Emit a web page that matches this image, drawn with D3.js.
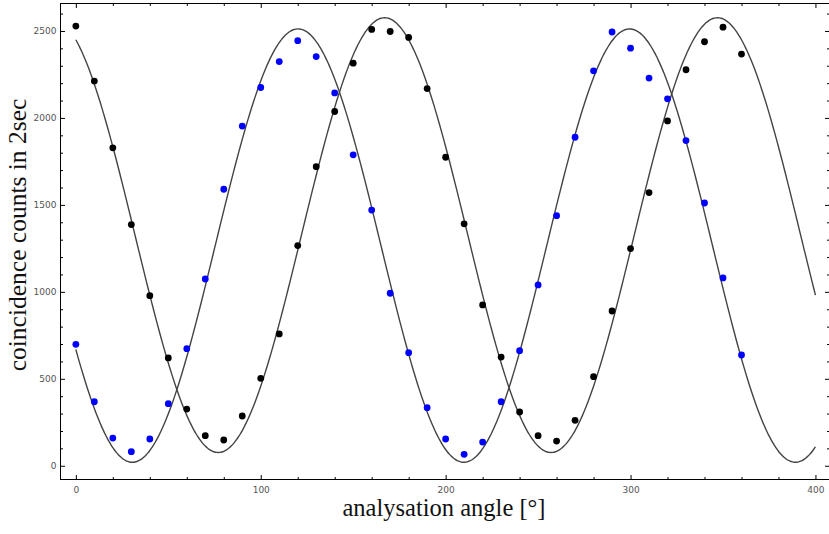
<!DOCTYPE html>
<html>
<head>
<meta charset="utf-8">
<script src="https://cdn.jsdelivr.net/npm/d3@7"></script>
<style>
  body { margin: 0; background: #fff; }
  .tick text { font-family: "DejaVu Sans", sans-serif; font-size: 9px; fill: #555; }
  .axis-title { font-family: "Liberation Serif", serif; font-size: 24.5px; fill: #111; }
</style>
</head>
<body>
<div id="chart"></div>
<script>
// measured angles (degrees)
var angles = [0,10,20,30,40,50,60,70,80,90,100,110,120,130,140,150,160,170,180,
              190,200,210,220,230,240,250,260,270,280,290,300,310,320,330,340,350,360];
// coincidence counts, first detector setting (black)
var countsBlack = [2528,2212,1828,1387,978,620,326,173,148,286,503,758,1266,1720,2037,2315,2509,2497,2463,
                   2169,1774,1391,925,625,309,173,142,261,512,890,1249,1571,1983,2277,2438,2522,2367];
// coincidence counts, second detector setting (blue)
var countsBlue = [698,368,159,81,154,357,673,1074,1590,1953,2175,2324,2444,2353,2144,1788,1470,992,650,
                  334,154,66,136,368,662,1040,1438,1889,2271,2494,2401,2229,2110,1870,1511,1080,637];
// fit parameters [offset, amplitude, phase of max (deg), period (deg)]
var fitBlack = [1326, 1250, 167, 180];
var fitBlue = [1266, 1246, 120.2, 179.3];
var xTicks = [0, 100, 200, 300, 400];
var yTicks = [0, 500, 1000, 1500, 2000, 2500];

(function(){
    var width = 829, height = 534;
    var frameLeft = 60.5, frameRight = 829.5, frameTop = 3.5, frameBottom = 479.5;

    var svg = d3.select('#chart').append('svg')
        .attr('width', width)
        .attr('height', height);

    var x = d3.scaleLinear().domain([-8.3, 407.6]).range([frameLeft, frameRight]);
    var y = d3.scaleLinear().domain([-79, 2658]).range([frameBottom, frameTop]);

    // minor tick values
    var xMinor = d3.range(0, 401, 20).filter(function(d){ return xTicks.indexOf(d) < 0; });
    var yMinor = d3.range(0, 2601, 100).filter(function(d){ return yTicks.indexOf(d) < 0; });

    function frameAxis(axis, values, size, labels, transform){
        var g = svg.append('g')
            .attr('transform', transform)
            .call(axis.tickValues(values).tickSizeInner(size).tickSizeOuter(0).tickPadding(labels ? 5 : 0)
                  .tickFormat(labels ? d3.format('d') : ''));
        g.select('.domain').remove();
        g.selectAll('.tick line').attr('stroke', '#000').attr('stroke-width', 1);
        if (!labels) g.selectAll('.tick text').remove();
        return g;
    }

    // bottom and top
    var xAxisG = frameAxis(d3.axisBottom(x), xTicks, -4.5, true, 'translate(0,' + frameBottom + ')');
    frameAxis(d3.axisBottom(x), xMinor, -2.5, false, 'translate(0,' + frameBottom + ')');
    frameAxis(d3.axisTop(x), xTicks, -4.5, false, 'translate(0,' + frameTop + ')');
    frameAxis(d3.axisTop(x), xMinor, -2.5, false, 'translate(0,' + frameTop + ')');
    // left and right
    var yAxisG = frameAxis(d3.axisLeft(y), yTicks, -4.5, true, 'translate(' + frameLeft + ',0)');
    frameAxis(d3.axisLeft(y), yMinor, -2.5, false, 'translate(' + frameLeft + ',0)');
    frameAxis(d3.axisRight(y), yTicks, -4.5, false, 'translate(' + frameRight + ',0)');
    frameAxis(d3.axisRight(y), yMinor, -2.5, false, 'translate(' + frameRight + ',0)');

    xAxisG.selectAll('.tick text').attr('y', 7).attr('dy', '0.71em');
    yAxisG.selectAll('.tick text').attr('x', -4);

    // frame
    svg.append('rect')
        .attr('x', frameLeft).attr('y', frameTop)
        .attr('width', frameRight - frameLeft).attr('height', frameBottom - frameTop)
        .attr('fill', 'none').attr('stroke', '#000').attr('stroke-width', 1);

    // fit curves
    var curveAngles = d3.range(0, 400.5, 1);
    function fitValue(p, t){
        return p[0] + p[1] * Math.cos(2 * Math.PI * (t - p[2]) / p[3]);
    }
    var line = d3.line().curve(d3.curveMonotoneX);
    [fitBlack, fitBlue].forEach(function(p){
        svg.append('path')
            .attr('d', line(curveAngles.map(function(t){ return [x(t), y(fitValue(p, t))]; })))
            .attr('fill', 'none')
            .attr('stroke', '#444')
            .attr('stroke-width', 1.4);
    });

    // data points
    [[countsBlack, '#000'], [countsBlue, '#0000ff']].forEach(function(s){
        svg.append('g').selectAll('circle')
            .data(s[0])
            .enter()
            .append('circle')
                .attr('cx', function(d, i){ return x(angles[i]); })
                .attr('cy', function(d){ return y(d); })
                .attr('r', 3.4)
                .attr('fill', s[1]);
    });

    // axis titles
    svg.append('text')
        .attr('class', 'axis-title')
        .attr('x', 444)
        .attr('y', 516)
        .attr('text-anchor', 'middle')
        .text('analysation angle [°]');

    svg.append('text')
        .attr('class', 'axis-title')
        .style('font-size', '25.5px')
        .attr('transform', 'translate(25.5,235) rotate(-90)')
        .attr('text-anchor', 'middle')
        .text('coincidence counts in 2sec');
})();
</script>
</body>
</html>
